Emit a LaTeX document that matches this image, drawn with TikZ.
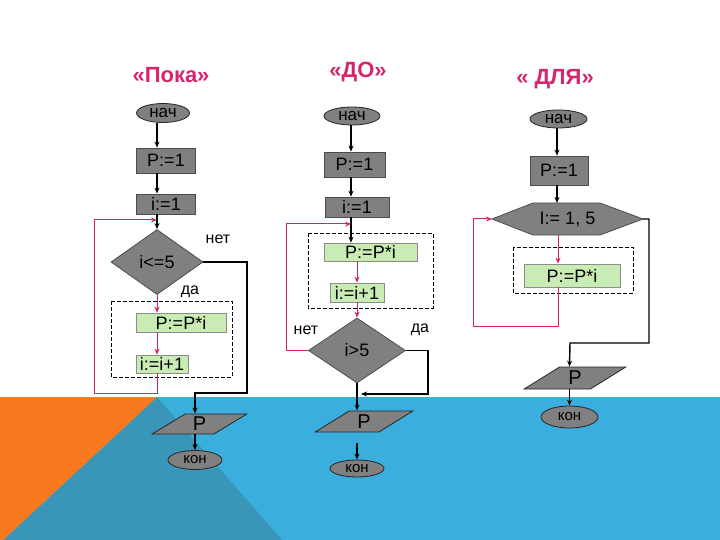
\documentclass[tikz,border=0pt]{standalone}
\usepackage{fontspec}
\setmainfont{Liberation Sans}
\usetikzlibrary{shapes.geometric,arrows.meta}
\definecolor{boxgray}{RGB}{128,128,128}
\definecolor{boxgreen}{RGB}{200,236,180}
\definecolor{loopred}{RGB}{220,30,100}
\definecolor{titlecol}{RGB}{214,36,110}
\definecolor{orangebg}{RGB}{250,120,30}
\definecolor{tealbg}{RGB}{58,150,185}
\definecolor{bluebg}{RGB}{58,174,220}
\begin{document}
\begin{tikzpicture}[x=1pt,y=-1pt,
  base/.style={font=\fontsize{18}{18}\selectfont, inner sep=0pt, text=black},
  gbox/.style={base, rectangle, draw=black!70, fill=boxgray, line width=0.8pt},
  greenbox/.style={base, rectangle, draw=black!45, fill=boxgreen, line width=0.6pt},
  term/.style={base, ellipse, draw=black!85, fill=boxgray, line width=0.8pt, font=\fontsize{17}{17}\selectfont},
  dec/.style={base, diamond, draw=black!70, fill=boxgray, line width=0.8pt},
  io/.style={base, trapezium, trapezium left angle=42, trapezium right angle=138, trapezium stretches=true, draw=black!85, fill=boxgray, line width=0.8pt, font=\fontsize{20}{20}\selectfont},
  hexpath/.style={draw=black!70, fill=boxgray, line width=0.8pt},
  arr/.style={draw=black, line width=1.4pt, -{Stealth[length=6pt,width=5pt]}},
  loopln/.style={draw=loopred, line width=1pt, -{Stealth[length=6pt,width=5pt]}},
  lbl/.style={font=\fontsize{16}{16}\selectfont, inner sep=0pt},
  ttl/.style={font=\fontsize{22}{22}\selectfont\bfseries, text=titlecol, inner sep=0pt},
  dbox/.style={draw=black, line width=0.8pt, dash pattern=on 4pt off 2pt},
  endterm/.style={term, font=\fontsize{15}{15}\selectfont}
]
% background
\fill[white] (0,0) rectangle (720,540);
\fill[bluebg] (0,397) rectangle (720,540);
\fill[tealbg] (157,397) -- (282,540) -- (3,540) -- cycle;
\fill[orangebg] (0,397) -- (157,397) -- (3,540) -- (0,540) -- cycle;
\useasboundingbox (0,0) rectangle (720,540);

% ===== Flowchart 1: «Пока»
\node[ttl] (t1) at (171,75) {«Пока»};
\node[term, minimum width=53pt, minimum height=19pt] (n1) at (163,113) {нач};
\node[gbox, minimum width=59pt, minimum height=25pt] (p1) at (166,160.5) {P:=1};
\node[gbox, minimum width=59pt, minimum height=20pt] (i1) at (166,204) {i:=1};
\node[dec, minimum width=92pt, minimum height=65pt] (d1) at (157,262) {i<=5};
\draw[dbox] (111,301) rectangle (232,377);
\node[greenbox, minimum width=90pt, minimum height=19pt] (g1) at (181,322.5) {P:=P*i};
\node[greenbox, minimum width=52pt, minimum height=18pt] (g2) at (162,364) {i:=i+1};
\node[io, minimum width=95pt, minimum height=20pt] (o1) at (199.5,424) {P};
\node[endterm, minimum width=54pt, minimum height=19pt] (e1) at (195,460) {кон};
\node[lbl] (l1) at (218,239) {нет};
\node[lbl] (l2) at (190,292) {да};

\draw[arr] (n1.south -| d1.north) -- (p1.north -| d1.north);
\draw[arr] (p1.south -| d1.north) -- (i1.north -| d1.north);
\draw[arr] (i1.south -| d1.north) -- (d1.north);
\draw[loopln] (d1.south) -- (g1.north -| d1.south);
\draw[loopln] (g1.south -| d1.south) -- (g2.north -| d1.south);
\draw[loopln] (g2.south -| d1.south) -- (d1.south |- 0,393) -- (94,393) -- (94,220) -- (d1.north |- 0,220);
\draw[arr] (d1.east) -| (247,393) -| (o1.north -| e1.north);
\draw[arr] (o1.south -| e1.north) -- (e1.north);

% ===== Flowchart 2: «ДО»
\node[ttl] (t2) at (358,72) {«ДО»};
\node[term, minimum width=56pt, minimum height=18pt] (n2) at (352,116) {нач};
\node[gbox, minimum width=61pt, minimum height=25pt] (p2) at (354.5,164.5) {P:=1};
\node[gbox, minimum width=64pt, minimum height=20pt] (i2) at (357,207) {i:=1};
\draw[dbox] (308,233) rectangle (433,308);
\node[greenbox, minimum width=93pt, minimum height=18pt] (g3) at (370.5,252) {P:=P*i};
\node[greenbox, minimum width=54pt, minimum height=19pt] (g4) at (357,292.5) {i:=i+1};
\node[dec, minimum width=97pt, minimum height=65pt] (d2) at (357,350.5) {i>5};
\node[io, minimum width=98pt, minimum height=21pt] (o2) at (364,421.5) {P};
\node[endterm, minimum width=54pt, minimum height=17pt] (e2) at (357,468.5) {кон};
\node[lbl] (l3) at (306,330) {нет};
\node[lbl] (l4) at (420,330) {да};

\draw[arr] (n2.south -| 351,0) -- (p2.north -| 351,0);
\draw[arr] (p2.south -| 351,0) -- (i2.north -| 351,0);
\draw[arr] (i2.south -| 351,0) -- (g3.north -| 351,0);
\draw[loopln] (g3.south -| d2.north) -- (g4.north -| d2.north);
\draw[loopln] (g4.south -| d2.north) -- (d2.north);
\draw[loopln] (d2.west) -- (286,350.5) -- (286,224) -- (351,224);
\draw[arr] (d2.south) -- (o2.north -| d2.south);
\draw[arr, shorten >=4pt] (d2.east) -| (428,394) -- (d2.south |- 0,394);
\draw[arr, shorten <=11pt] (o2.south -| e2.north) -- (e2.north);

% ===== Flowchart 3: « ДЛЯ»
\node[ttl] (t3) at (555,79) {« ДЛЯ»};
\node[term, minimum width=57pt, minimum height=18pt] (n3) at (558.5,119) {нач};
\node[gbox, minimum width=58pt, minimum height=29pt] (p3) at (559,170.5) {P:=1};
\draw[hexpath] (492,219) -- (533,203) -- (600,203) -- (643,219) -- (600,235) -- (533,235) -- cycle;
\node[base] (h3) at (567.5,219) {I:= 1, 5};
\coordinate (h3w) at (492,219);
\coordinate (h3e) at (643,219);
\coordinate (h3s) at (558,235);
\coordinate (h3n) at (557,203);
\draw[dbox] (513,247) rectangle (633,293);
\node[greenbox, minimum width=96pt, minimum height=23pt] (g5) at (572,275.5) {P:=P*i};
\node[io, minimum width=102pt, minimum height=22pt] (o3) at (575,378) {P};
\node[endterm, minimum width=57pt, minimum height=22pt] (e3) at (569.5,417) {кон};

\draw[arr] (n3.south -| h3n) -- (p3.north -| h3n);
\draw[arr] (p3.south -| h3n) -- (h3n);
\draw[loopln] (h3s) -- (g5.north -| h3s);
\draw[loopln] (g5.south -| h3s) -- (558,326) -- (473,326) -- (473,219) -- (h3w);
\draw[arr] (h3e) -- (649,219) |- (570,343) -- (o3.north -| e3.north);
\draw[arr] (o3.south -| e3.north) -- (e3.north);
\end{tikzpicture}
\end{document}
